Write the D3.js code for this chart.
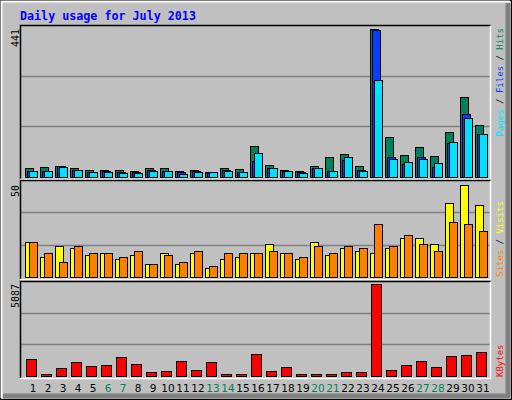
<!DOCTYPE html>
<html>
<head>
<meta charset="utf-8">
<script src="https://cdn.jsdelivr.net/npm/d3@7"></script>
<style>
  body { margin: 0; background: #fff; }
  svg { display: block; }
</style>
</head>
<body>
<div id="chart"></div>
<script>
// Daily usage values
const days = d3.range(1, 32);
const weekendDays = [6, 7, 13, 14, 20, 21, 27, 28];
const hits  = [28,31,34,27,22,22,22,19,28,28,19,22,15,28,25,91,37,22,19,34,61,70,34,441,118,67,88,64,133,238,154];
const files = [19,19,34,22,16,19,16,16,22,19,16,19,15,22,16,49,28,19,16,28,19,52,22,439,61,40,61,31,100,187,127];
const pages = [19,19,31,22,16,16,13,13,19,19,10,16,15,19,16,73,28,19,13,28,19,61,19,289,55,46,55,43,103,175,127];
const visits = [19,11,17,16,12,13,10,12,7,13,7,13,5,10,11,13,18,13,10,19,12,16,14,13,16,21,21,18,40,50,39];
const sites  = [19,13,8,17,13,13,11,14,7,12,8,14,6,13,13,13,14,13,11,17,13,17,16,29,17,23,18,14,30,29,25];
const kbytes = [966,90,464,798,576,631,1077,687,241,297,854,353,798,130,90,1244,297,520,90,90,130,241,241,5087,353,631,854,520,1133,1188,1300];

const W = 512, H = 400;
const mono = "'DejaVu Sans Mono', monospace";
const svg = d3.select("#chart").append("svg").attr("width", W).attr("height", H);

// Frame with bevel
svg.append("rect").attr("x", 0.5).attr("y", 0.5).attr("width", W - 1).attr("height", H - 1)
  .attr("fill", "#c0c0c0").attr("stroke", "#000");
svg.append("path").attr("d", `M1.5,${H - 2} V1.5 H${W - 2}`).attr("stroke", "#fff").attr("stroke-width", 2).attr("fill", "none");
svg.append("path").attr("d", `M${W - 4},3 V${H - 4} H3`).attr("stroke", "#808080").attr("stroke-width", 5).attr("fill", "none");

svg.append("text").attr("x", 20).attr("y", 20)
  .attr("font-family", mono).attr("font-weight", "bold").attr("font-size", 11.7)
  .attr("fill", "#0000ff").text("Daily usage for July 2013");

const x = d3.scaleBand().domain(days).range([25, 490]).paddingInner(0);

// panels: [top, bottom(baseline)]
const panels = [
  { top: 25, base: 177, yTop: 29, max: 441 },
  { top: 180, base: 277, yTop: 185, max: 50 },
  { top: 281, base: 376, yTop: 284, max: 5087 }
];

panels.forEach(p => {
  p.y = d3.scaleLinear().domain([0, p.max]).range([p.base, p.yTop]);
  const h = p.base - p.top;
  svg.append("rect").attr("x", 20.5).attr("y", p.top + 0.5).attr("width", 470).attr("height", h + 1)
    .attr("fill", "#c0c0c0").attr("stroke", "none");
  [1 / 3, 2 / 3].forEach(f => {
    const gy = Math.round(p.base - (p.base - p.top) * f) + 0.5;
    svg.append("line").attr("x1", 21).attr("x2", 490).attr("y1", gy).attr("y2", gy)
      .attr("stroke", "#808080").attr("stroke-width", 1.3);
  });
  svg.append("path").attr("d", `M20.5,${p.base + 2} V${p.top + 0.5} H490.5`).attr("stroke", "#000").attr("fill", "none").attr("stroke-width", 1.5);
  svg.append("path").attr("d", `M490.5,${p.top + 1} V${p.base + 2.5} H20`).attr("stroke", "#fff").attr("fill", "none").attr("stroke-width", 1.5);
  svg.append("text").attr("transform", `translate(19,${p.yTop}) rotate(-90)`)
    .attr("text-anchor", "end").attr("font-family", mono).attr("font-size", 10).attr("fill", "#000")
    .text(p.max);
});

function bars(panel, values, offset, width, color) {
  svg.append("g").selectAll("rect").data(values).join("rect")
    .attr("x", (d, i) => x(days[i]) + offset + 0.5)
    .attr("y", d => Math.round(panel.y(d)) + 0.5)
    .attr("width", width)
    .attr("height", d => Math.max(0, panel.base - Math.round(panel.y(d))))
    .attr("fill", color).attr("stroke", "#000").attr("stroke-width", 1);
}

bars(panels[0], hits, 0, 8, "#00805c");
bars(panels[0], files, 2, 8, "#0040ff");
bars(panels[0], pages, 4, 8, "#00e0ff");
bars(panels[1], visits, 0, 8, "#ffff00");
bars(panels[1], sites, 4, 8, "#ff8000");
bars(panels[2], kbytes, 1, 10, "#ff0000");

// day labels
svg.append("g").selectAll("text").data(days).join("text")
  .attr("x", d => x(d) + 8).attr("y", 392)
  .attr("text-anchor", "middle").attr("font-family", "'DejaVu Sans', sans-serif").attr("font-size", 10.5)
  .attr("fill", d => weekendDays.includes(d) ? "#00805c" : "#000")
  .text(d => d);

// right-hand legends, rotated
function legend(yAnchor, anchor, parts) {
  const t = svg.append("text").attr("transform", `translate(503,${yAnchor}) rotate(-90)`)
    .attr("text-anchor", anchor).attr("font-family", mono).attr("font-size", 9);
  parts.forEach(([s, c]) => t.append("tspan").attr("fill", c).text(s));
}
legend(28, "end", [["Pages", "#00e0ff"], [" / ", "#000"], ["Files", "#0040ff"], [" / ", "#000"], ["Hits", "#00805c"]]);
legend(277, "start", [["Sites", "#ff8000"], [" / ", "#000"], ["Visits", "#ffff00"]]);
legend(377, "start", [["KBytes", "#ff0000"]]);
</script>
</body>
</html>
